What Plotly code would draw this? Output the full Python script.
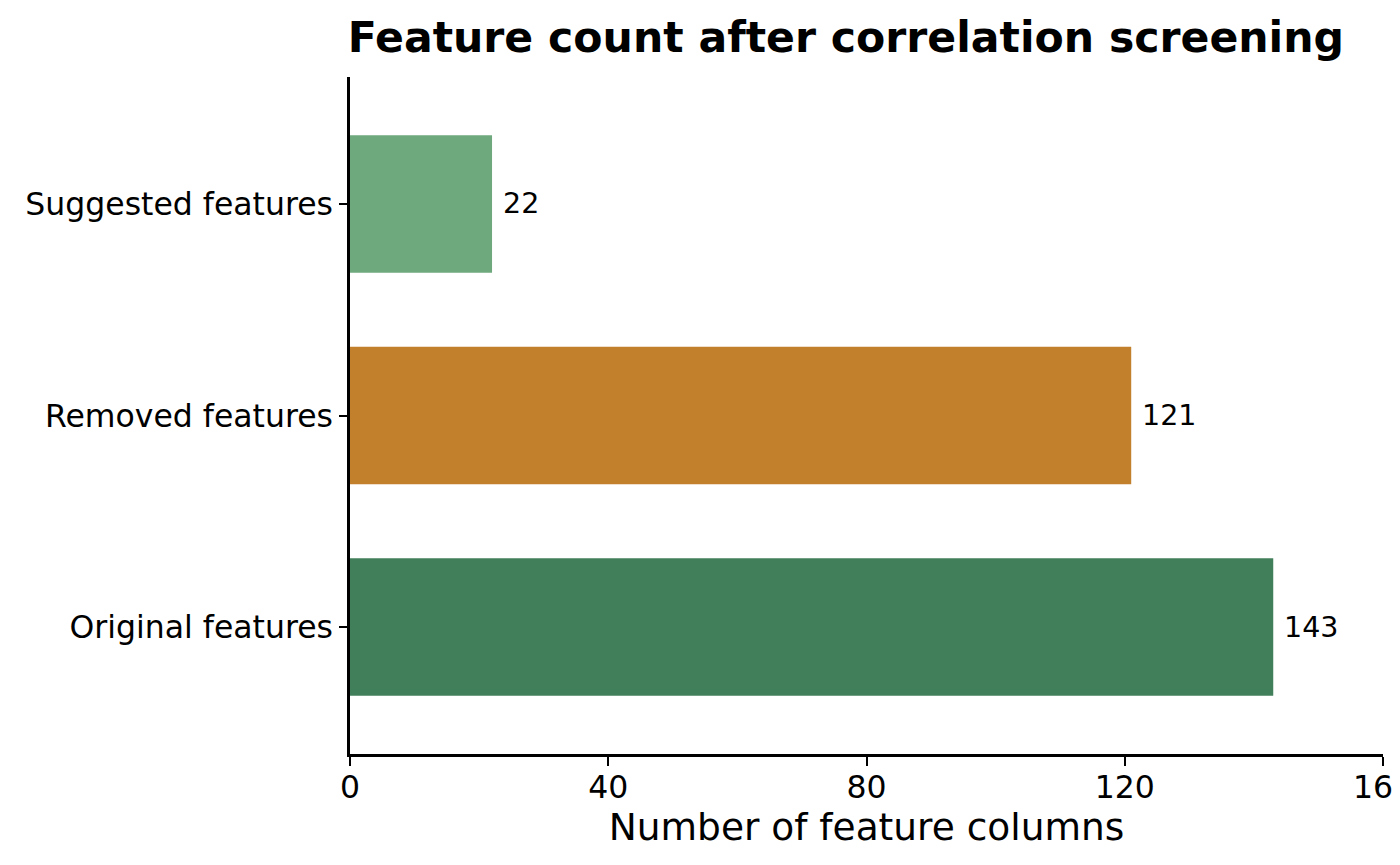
import plotly.graph_objects as go

# Datos
categorias = ['Original features', 'Removed features', 'Suggested features']
conteos = [143, 121, 22]
colores = ['#417f5a', '#c27f2c', '#6ea97e']
ticks_x = [0, 40, 80, 120, 160]

fig = go.Figure()

fig.add_trace(go.Bar(
    y=categorias,
    x=conteos,
    orientation='h',
    marker=dict(color=colores, line=dict(width=0)),
    width=0.65,
    showlegend=False,
))

# Etiquetas de valor a la derecha de cada barra
for cat, val in zip(categorias, conteos):
    fig.add_annotation(
        x=val, y=cat, xref='x', yref='y',
        text=str(val), showarrow=False,
        xanchor='left', yanchor='middle', xshift=9,
        font=dict(family='DejaVu Sans', size=28.5, color='black'),
    )

# El body del html tiene 8px de margen: figura de 1384x849 para llenar 1400x865
fig.update_layout(
    width=1384, height=849,
    margin=dict(l=342, r=9, t=69, b=103),
    paper_bgcolor='white',
    plot_bgcolor='white',
    font=dict(family='DejaVu Sans', color='black'),
    title=dict(
        text='<b>Feature count after correlation screening</b>',
        x=0.48, xref='paper', xanchor='center',
        y=0.966, yref='container', yanchor='middle',
        font=dict(family='DejaVu Sans', size=42.6, color='black'),
    ),
    xaxis=dict(
        range=[0, 160],
        tickvals=ticks_x,
        ticktext=[str(t) for t in ticks_x],
        showline=True, linecolor='black', linewidth=2.5,
        ticks='outside', ticklen=9, tickwidth=2, tickcolor='black',
        showgrid=False, zeroline=False,
        tickfont=dict(size=31.5),
        ticklabeloverflow='allow',
        ticklabelstandoff=-6,
        automargin=False,
        title=dict(text='Number of feature columns', font=dict(size=37.5), standoff=8),
    ),
    yaxis=dict(
        range=[-0.6, 2.6],
        categoryorder='array', categoryarray=categorias,
        showline=True, linecolor='black', linewidth=2.5,
        ticks='outside', ticklen=8, tickwidth=2, tickcolor='black',
        showgrid=False, zeroline=False,
        tickfont=dict(size=31.5),
        automargin=False,
    ),
)

fig.write_html("out.html")
